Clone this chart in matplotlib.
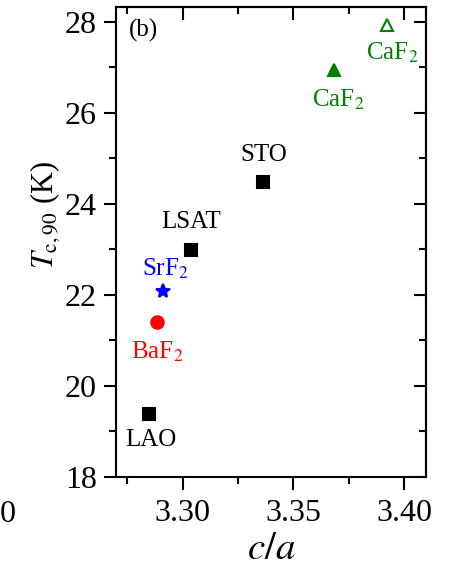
import matplotlib
matplotlib.use("Agg")
import matplotlib.pyplot as plt
from matplotlib.ticker import MultipleLocator

plt.rcParams["font.family"] = ["Liberation Serif", "DejaVu Serif"]
plt.rcParams["mathtext.fontset"] = "stix"

# substrates: c/a ratio and Tc,90
labels = ["LAO", "BaF$_2$", "SrF$_2$", "LSAT", "STO", "CaF$_2$", "CaF$_2$"]
c_over_a = [3.2847, 3.2883, 3.2914, 3.3040, 3.3365, 3.3685, 3.3923]
tc90 = [19.38, 21.41, 22.09, 22.99, 24.48, 26.95, 27.93]

markers = ["s", "o", "*", "s", "s", "^", "^"]
colors = ["black", "red", "blue", "black", "black", "green", "green"]
filled = [True, True, True, True, True, True, False]
sizes = [8, 9, 10, 8, 8, 9, 8]
label_offsets = [(2, -26), (1, -30), (2, 22), (0, 28), (0, 27), (4, -30), (5, -28)]

fig = plt.figure(figsize=(4.5, 5.67), dpi=100)
ax = fig.add_axes([0.258, 0.159, 0.689, 0.829])

for x, y, lab, m, c, f, s, off in zip(c_over_a, tc90, labels, markers, colors,
                                      filled, sizes, label_offsets):
    ax.plot(x, y, marker=m, color=c, markersize=s, linestyle="none",
            markerfacecolor=c if f else "white", markeredgewidth=1.5)
    ax.annotate(lab, (x, y), xytext=off, textcoords="offset pixels",
                ha="center", va="center", color=c, fontsize=18)

ax.set_xlim(3.27, 3.41)
ax.set_ylim(18, 28.33)
ax.xaxis.set_major_locator(MultipleLocator(0.05))
ax.xaxis.set_minor_locator(MultipleLocator(0.025))
ax.yaxis.set_major_locator(MultipleLocator(2))
ax.yaxis.set_minor_locator(MultipleLocator(1))
ax.xaxis.set_major_formatter(plt.FormatStrFormatter("%.2f"))

ax.tick_params(which="both", direction="out", width=1.5, labelsize=23)
ax.tick_params(axis="x", pad=7)
ax.tick_params(axis="y", pad=5)
ax.tick_params(which="major", length=9)
ax.tick_params(which="minor", length=5)
for sp in ax.spines.values():
    sp.set_linewidth(1.5)

# inward ticks on top and right
top = ax.secondary_xaxis("top")
top.xaxis.set_major_locator(MultipleLocator(0.05))
top.xaxis.set_minor_locator(MultipleLocator(0.025))
right = ax.secondary_yaxis("right")
right.yaxis.set_major_locator(MultipleLocator(2))
right.yaxis.set_minor_locator(MultipleLocator(1))
for sec in (top, right):
    sec.tick_params(which="both", direction="in", width=1.5,
                    labeltop=False, labelright=False)
    sec.tick_params(which="major", length=9)
    sec.tick_params(which="minor", length=5)
    for sp in sec.spines.values():
        sp.set_linewidth(1.5)

ax.set_xlabel("$c/a$", fontsize=28)
ax.xaxis.set_label_coords(0.5, -0.115)
ax.set_ylabel("$T_{\\rm c,90}$ (K)", fontsize=22)
ax.yaxis.set_label_coords(-0.175, 0.557)
ax.text(0.04, 0.975, "(b)", transform=ax.transAxes, ha="left", va="top",
        fontsize=18)

# edge of the neighbouring panel's tick label
fig.text(0.0, 0.092, "0", fontsize=23, ha="left", va="center")

fig.savefig("out.png", dpi=100)
